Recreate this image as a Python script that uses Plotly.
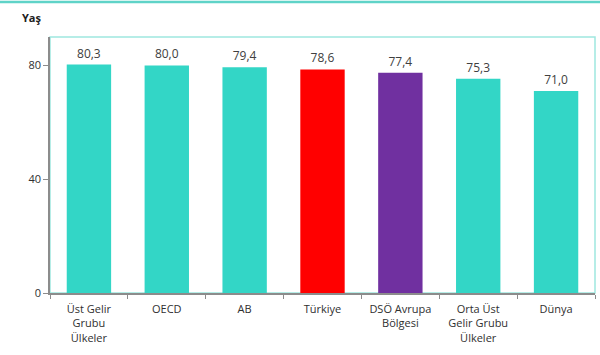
import plotly.graph_objects as go

categories = ["Üst Gelir<br>Grubu<br>Ülkeler", "OECD", "AB", "Türkiye",
              "DSÖ Avrupa<br>Bölgesi", "Orta Üst<br>Gelir Grubu<br>Ülkeler", "Dünya"]
values = [80.3, 80.0, 79.4, 78.6, 77.4, 75.3, 71.0]
bar_colors = ["#33D6C6", "#33D6C6", "#33D6C6", "#FF0000", "#7030A0", "#33D6C6", "#33D6C6"]
y_ticks = [0, 40, 80]

FONT = "Open Sans, Liberation Sans, sans-serif"

fig = go.Figure(go.Bar(
    x=categories, y=values,
    marker=dict(color=bar_colors, line=dict(width=0)),
    texttemplate="%{y:.1f}", textposition="outside",
    textfont=dict(size=12, color="#404040", family=FONT),
    cliponaxis=False, width=0.57,
))

fig.update_layout(
    width=600, height=355,
    margin=dict(l=50, r=5, t=37, b=62),
    paper_bgcolor="white", plot_bgcolor="white",
    separators=",.",
    showlegend=False,
    font=dict(family=FONT, color="#404040", size=11),
    xaxis=dict(showline=True, linecolor="#8c8c8c", linewidth=1.5,
               ticks="outside", tickson="boundaries", ticklen=4, tickcolor="#8c8c8c",
               ticklabelstandoff=5,
               tickfont=dict(size=11, color="#303030"), showgrid=False),
    yaxis=dict(range=[0, 90], tickvals=y_ticks, showline=True, linecolor="#8c8c8c",
               linewidth=1.5, ticks="outside", ticklen=5, tickcolor="#8c8c8c",
               showgrid=False, zeroline=False, tickfont=dict(size=11, color="#303030")),
    shapes=[
        dict(type="rect", xref="paper", yref="paper", x0=0, x1=1, y0=0, y1=1,
             line=dict(color="#9fe8e0", width=1.5), layer="below"),
        dict(type="line", xref="paper", yref="paper", x0=-0.1, x1=1.01, y0=1.137, y1=1.137,
             line=dict(color="#5fd3c8", width=2.5)),
    ],
    annotations=[
        dict(text="<b>Yaş</b>", xref="paper", yref="paper", x=-0.055, y=1.075,
             xanchor="left", yanchor="middle", showarrow=False,
             font=dict(size=11, color="#202020", family=FONT)),
    ],
)

fig.write_html("out.html", config={"displayModeBar": False},
               post_script="document.body.style.margin='0';")
